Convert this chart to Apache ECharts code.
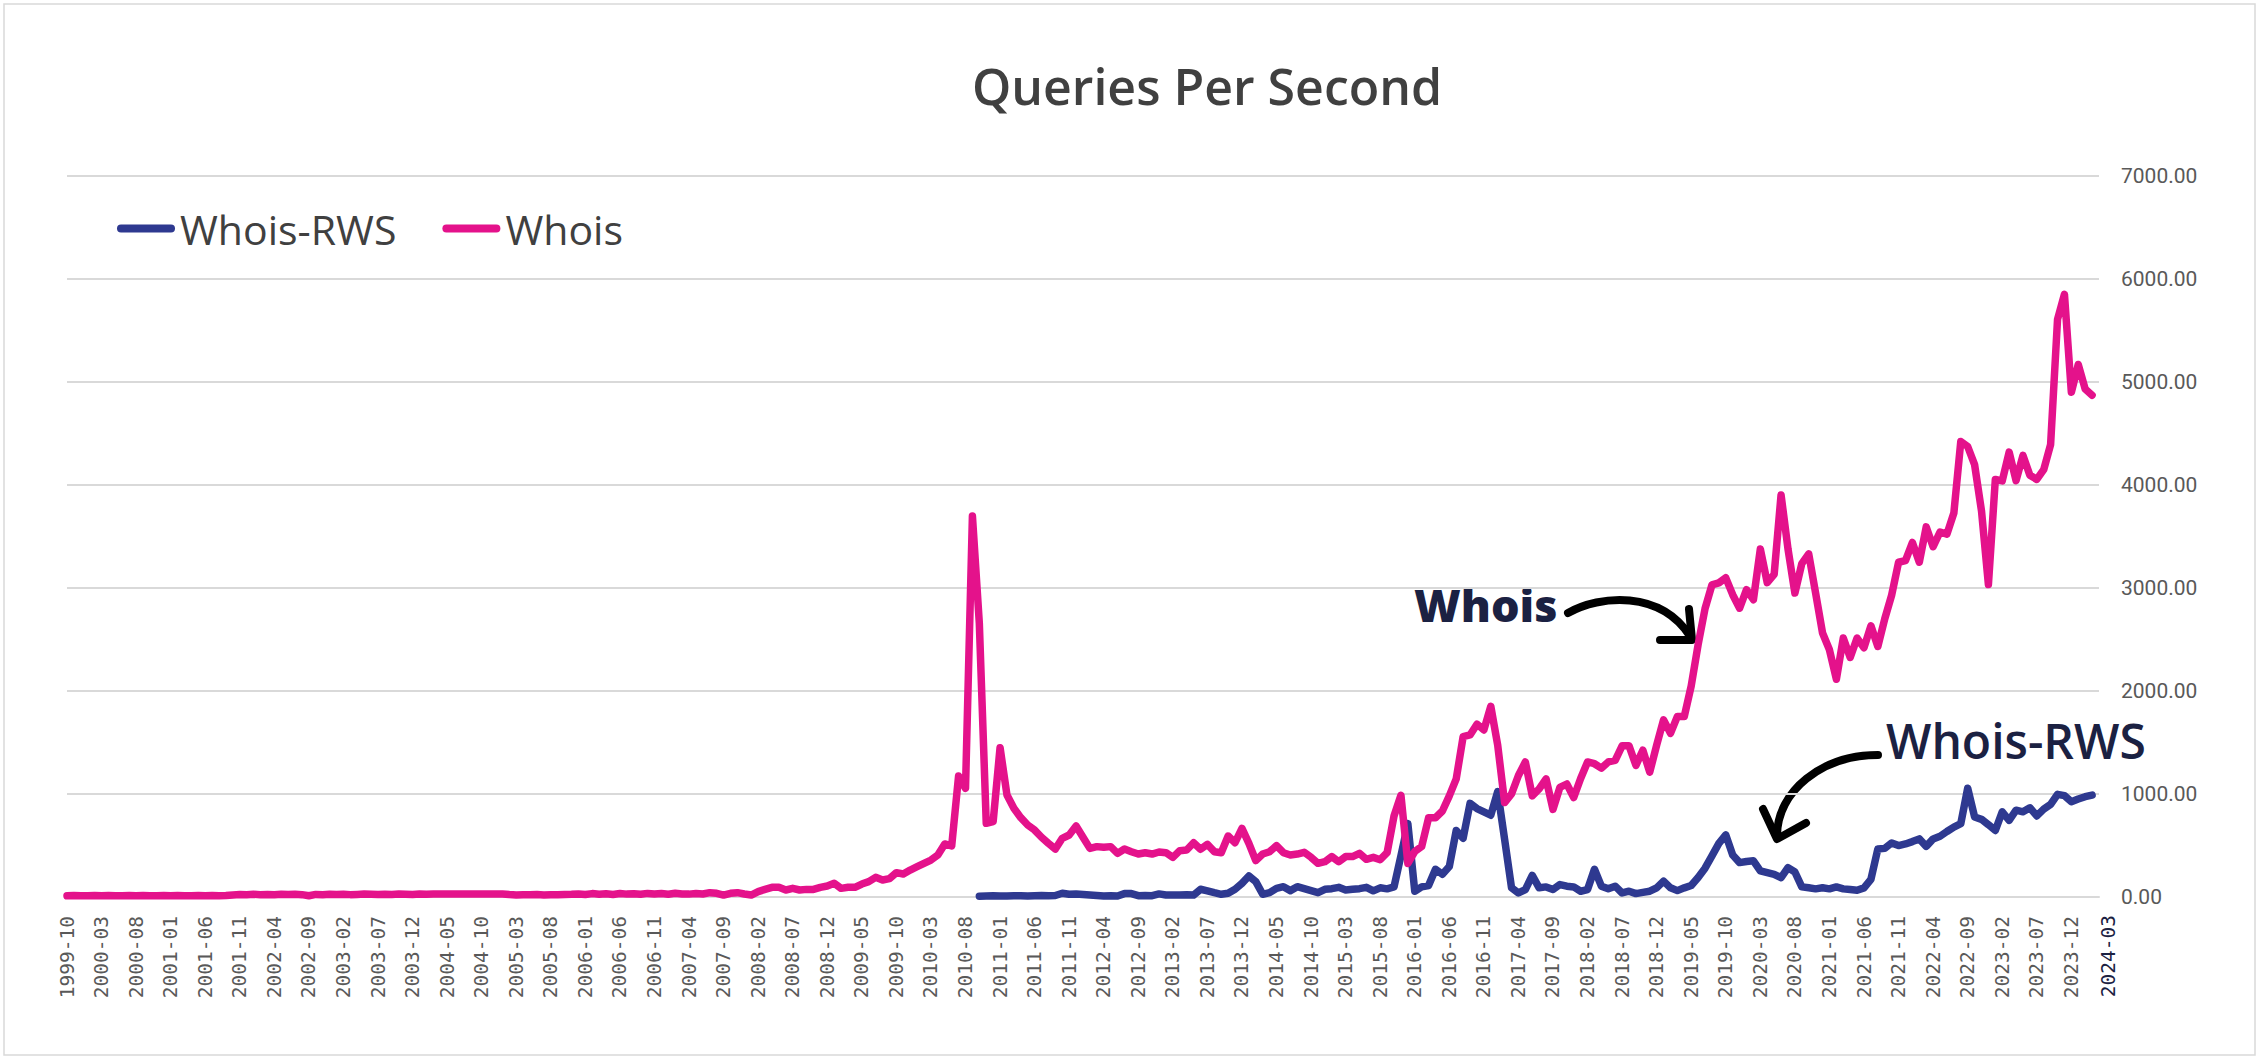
<!DOCTYPE html>
<html>
<head>
<meta charset="utf-8">
<script src="https://cdn.jsdelivr.net/npm/echarts@6/dist/echarts.min.js"></script>
<style>
html,body{margin:0;padding:0;background:#ffffff;}
#chart{width:2259px;height:1059px;}
</style>
</head>
<body>
<div id="chart"></div>
<script>
// ---------- categories (monthly, 1999-10 .. 2024-04) ----------
const firstMonth = [1999, 10];
const lastMonth = [2024, 4];
const categories = [];
for (let y = firstMonth[0], m = firstMonth[1]; y < lastMonth[0] || (y === lastMonth[0] && m <= lastMonth[1]); ) {
  categories.push(y + '-' + String(m).padStart(2, '0'));
  m++; if (m > 12) { m = 1; y++; }
}
const tickLabelStep = 5;
const lastTickIndex = 290;           // 2023-12
const extraTickLabel = '2024-03';    // hand-placed label at the right end

// ---------- Whois (starts 1999-10) ----------
const whois_1999_10_to_2001_09 = [12,14,11,13,15,12,14,11,13,14,12,15,11,13,14,12,14,11,13,15,12,14,11,14];
const whois_2001_10_to_2004_02 = [20,24,22,26,23,25,22,27,24,26,23,12,25,22,26,24,27,23,25,28,26,24,27,25,28,26,24,29,27];
const whois_2004_03_to_2005_10 = [29,30,30,30,30,30,30,30,30,30,30,24,20,23,21,24,20,23,22,25];
const whois_2005_11_to_2007_05 = [26,30,24,33,27,31,25,34,28,32,26,35,29,33,27,36,30,28,34];
const whois_2007_06_to_2010_12 = [29,42,36,19,36,42,29,19,52,74,94,94,68,84,68,74,74,94,107,133,84,94,94,126,149,191,165,178,236,223,262,294,327,359,408,515,495,1175,1055,3699,2657,715,731];
const whois_2011_01_to_2014_04 = [1450,990,861,770,699,650,580,521,466,570,602,689,580,472,489,482,489,424,466,440,417,430,417,437,430,385,450,456,527,463,511,440,430,592,527,666,521,353,417,440];
const whois_2014_05_to_2017_08 = [498,430,408,417,434,385,327,343,392,343,392,392,424,366,385,362,430,786,988,326,441,490,769,769,835,982,1147,1556,1573,1678,1622,1852,1475,917,1000,1180,1311,982,1049,1147];
const whois_2017_09_to_2020_12 = [851,1064,1097,966,1150,1311,1294,1251,1311,1327,1468,1468,1278,1425,1212,1475,1720,1589,1753,1753,2050,2450,2800,3030,3050,3099,2935,2804,2984,2886,3379,3052,3132,3904,3380,2951,3237,3331,2950,2563];
const whois_2021_01_to_2024_03 = [2400,2114,2514,2326,2514,2420,2633,2432,2700,2931,3250,3266,3442,3250,3593,3401,3544,3523,3728,4422,4374,4198,3748,3033,4054,4040,4320,4043,4287,4095,4054,4149,4394,5608,5852,4900,5170,4933,4872];

// ---------- Whois-RWS (starts 2010-10) ----------
const rwsStartMonth = '2010-10';
const rws_2010_10_to_2014_04 = [8,10,12,10,9,11,13,10,12,14,11,15,36,26,30,24,19,15,10,12,10,33,33,13,15,13,30,20,19,19,22,19,75,60,42,26,36,75,133,204,149,26,42];
const rws_2014_05_to_2017_08 = [84,100,62,100,81,62,42,75,81,94,68,75,81,94,60,89,79,98,400,712,56,98,112,269,220,295,646,571,909,859,827,794,1023,560,89,39,72,210,89,98];
const rws_2017_09_to_2020_12 = [72,121,105,98,56,72,269,105,79,105,39,56,33,45,56,89,154,89,62,89,112,190,280,400,520,603,407,334,345,351,253,236,220,187,285,243,98,89,79,89];
const rws_2021_01_to_2024_03 = [79,98,79,72,66,89,171,466,472,525,499,515,538,564,492,564,590,636,679,712,1056,777,754,702,646,827,745,843,827,866,787,853,899,997,984,925,951,974,990];

// ---------- y axis ----------
const yMin = 0, yMax = 7000, yStep = 1000;

const whoisData = [].concat(whois_1999_10_to_2001_09, whois_2001_10_to_2004_02, whois_2004_03_to_2005_10,
  whois_2005_11_to_2007_05, whois_2007_06_to_2010_12, whois_2011_01_to_2014_04, whois_2014_05_to_2017_08,
  whois_2017_09_to_2020_12, whois_2021_01_to_2024_03);
const rwsOffset = categories.indexOf(rwsStartMonth);
const rwsData = [].concat(rws_2010_10_to_2014_04, rws_2014_05_to_2017_08, rws_2017_09_to_2020_12, rws_2021_01_to_2024_03)
  .map((v, k) => [rwsOffset + k, v]);

const NAVY = '#2e3990';
const PINK = '#e4128b';
const DARKTEXT = '#1b2142';
const pill = 'path://M4,0 L54,0 A4,4 0 0 1 54,8 L4,8 A4,4 0 0 1 4,0 Z';

const chart = echarts.init(document.getElementById('chart'), null, { renderer: 'svg', width: 2259, height: 1059 });

const option = {
  animation: false,
  backgroundColor: '#ffffff',
  legend: {
    left: 112, top: 203, itemWidth: 58, itemHeight: 8, itemGap: 46,
    textStyle: { fontFamily: 'Open Sans', fontSize: 41, color: '#404040' },
    data: [{ name: 'Whois-RWS', icon: pill }, { name: 'Whois', icon: pill }]
  },
  grid: { left: 67, right: 160, top: 176, bottom: 162, containLabel: false },
  xAxis: {
    type: 'category', data: categories, boundaryGap: false,
    axisLine: { show: true, lineStyle: { color: '#d9d9d9', width: 2 } },
    axisTick: { show: false },
    splitLine: { show: false },
    axisLabel: {
      interval: (idx) => idx % tickLabelStep === 0 && idx <= lastTickIndex,
      rotate: 90, margin: 19,
      fontFamily: 'DejaVu Sans Mono', fontSize: 19.5, color: '#595959'
    }
  },
  yAxis: {
    type: 'value', position: 'right', min: yMin, max: yMax, interval: yStep,
    axisLine: { show: false }, axisTick: { show: false },
    splitLine: { lineStyle: { color: '#d9d9d9', width: 2 } },
    axisLabel: { formatter: (v) => v.toFixed(2), margin: 22, fontFamily: 'Roboto', fontSize: 21, color: '#595959' }
  },
  series: [
    { name: 'Whois-RWS', type: 'line', data: rwsData, symbol: 'none', showSymbol: false, z: 2,
      itemStyle: { color: NAVY }, lineStyle: { color: NAVY, width: 7.5, cap: 'round', join: 'round' } },
    { name: 'Whois', type: 'line', data: whoisData, symbol: 'none', showSymbol: false, z: 3,
      itemStyle: { color: PINK }, lineStyle: { color: PINK, width: 7.5, cap: 'round', join: 'round' } }
  ],
  graphic: [
    { type: 'rect', shape: { x: 4, y: 4, width: 2251, height: 1051 }, style: { fill: 'none', stroke: '#d9d9d9', lineWidth: 1.5 }, z: -1 },
    { type: 'text', x: 1207, y: 86, style: { text: 'Queries Per Second', fontFamily: 'Open Sans', fontWeight: 600, fontSize: 50, fill: '#404040', align: 'center', verticalAlign: 'middle' } },
    { type: 'text', x: 2108, y: 915, rotation: Math.PI / 2, style: { text: extraTickLabel, fontFamily: 'DejaVu Sans Mono', fontSize: 19.5, fill: DARKTEXT, align: 'right', verticalAlign: 'middle' } },
    // Whois annotation
    { type: 'text', x: 1414, y: 604, style: { text: 'Whois', fontFamily: 'Open Sans', fontWeight: 800, fontSize: 45, fill: DARKTEXT, align: 'left', verticalAlign: 'middle' } },
    { type: 'bezierCurve', shape: { x1: 1568, y1: 613, cpx1: 1600, cpy1: 595, cpx2: 1660, cpy2: 590, x2: 1690, y2: 636 }, style: { fill: 'none', stroke: '#000', lineWidth: 8, lineCap: 'round' } },
    { type: 'polyline', shape: { points: [[1689, 609], [1692, 640], [1660, 640]] }, style: { fill: 'none', stroke: '#000', lineWidth: 8, lineCap: 'round', lineJoin: 'round' } },
    // Whois-RWS annotation
    { type: 'text', x: 1886, y: 740, style: { text: 'Whois-RWS', fontFamily: 'Open Sans', fontWeight: 600, fontSize: 48, fill: DARKTEXT, align: 'left', verticalAlign: 'middle' } },
    { type: 'bezierCurve', shape: { x1: 1878, y1: 755, cpx1: 1822, cpy1: 755, cpx2: 1777, cpy2: 791, x2: 1777, y2: 836 }, style: { fill: 'none', stroke: '#000', lineWidth: 8, lineCap: 'round' } },
    { type: 'polyline', shape: { points: [[1763, 809], [1777, 839], [1806, 823]] }, style: { fill: 'none', stroke: '#000', lineWidth: 8, lineCap: 'round', lineJoin: 'round' } }
  ]
};
chart.setOption(option);
</script>
</body>
</html>
